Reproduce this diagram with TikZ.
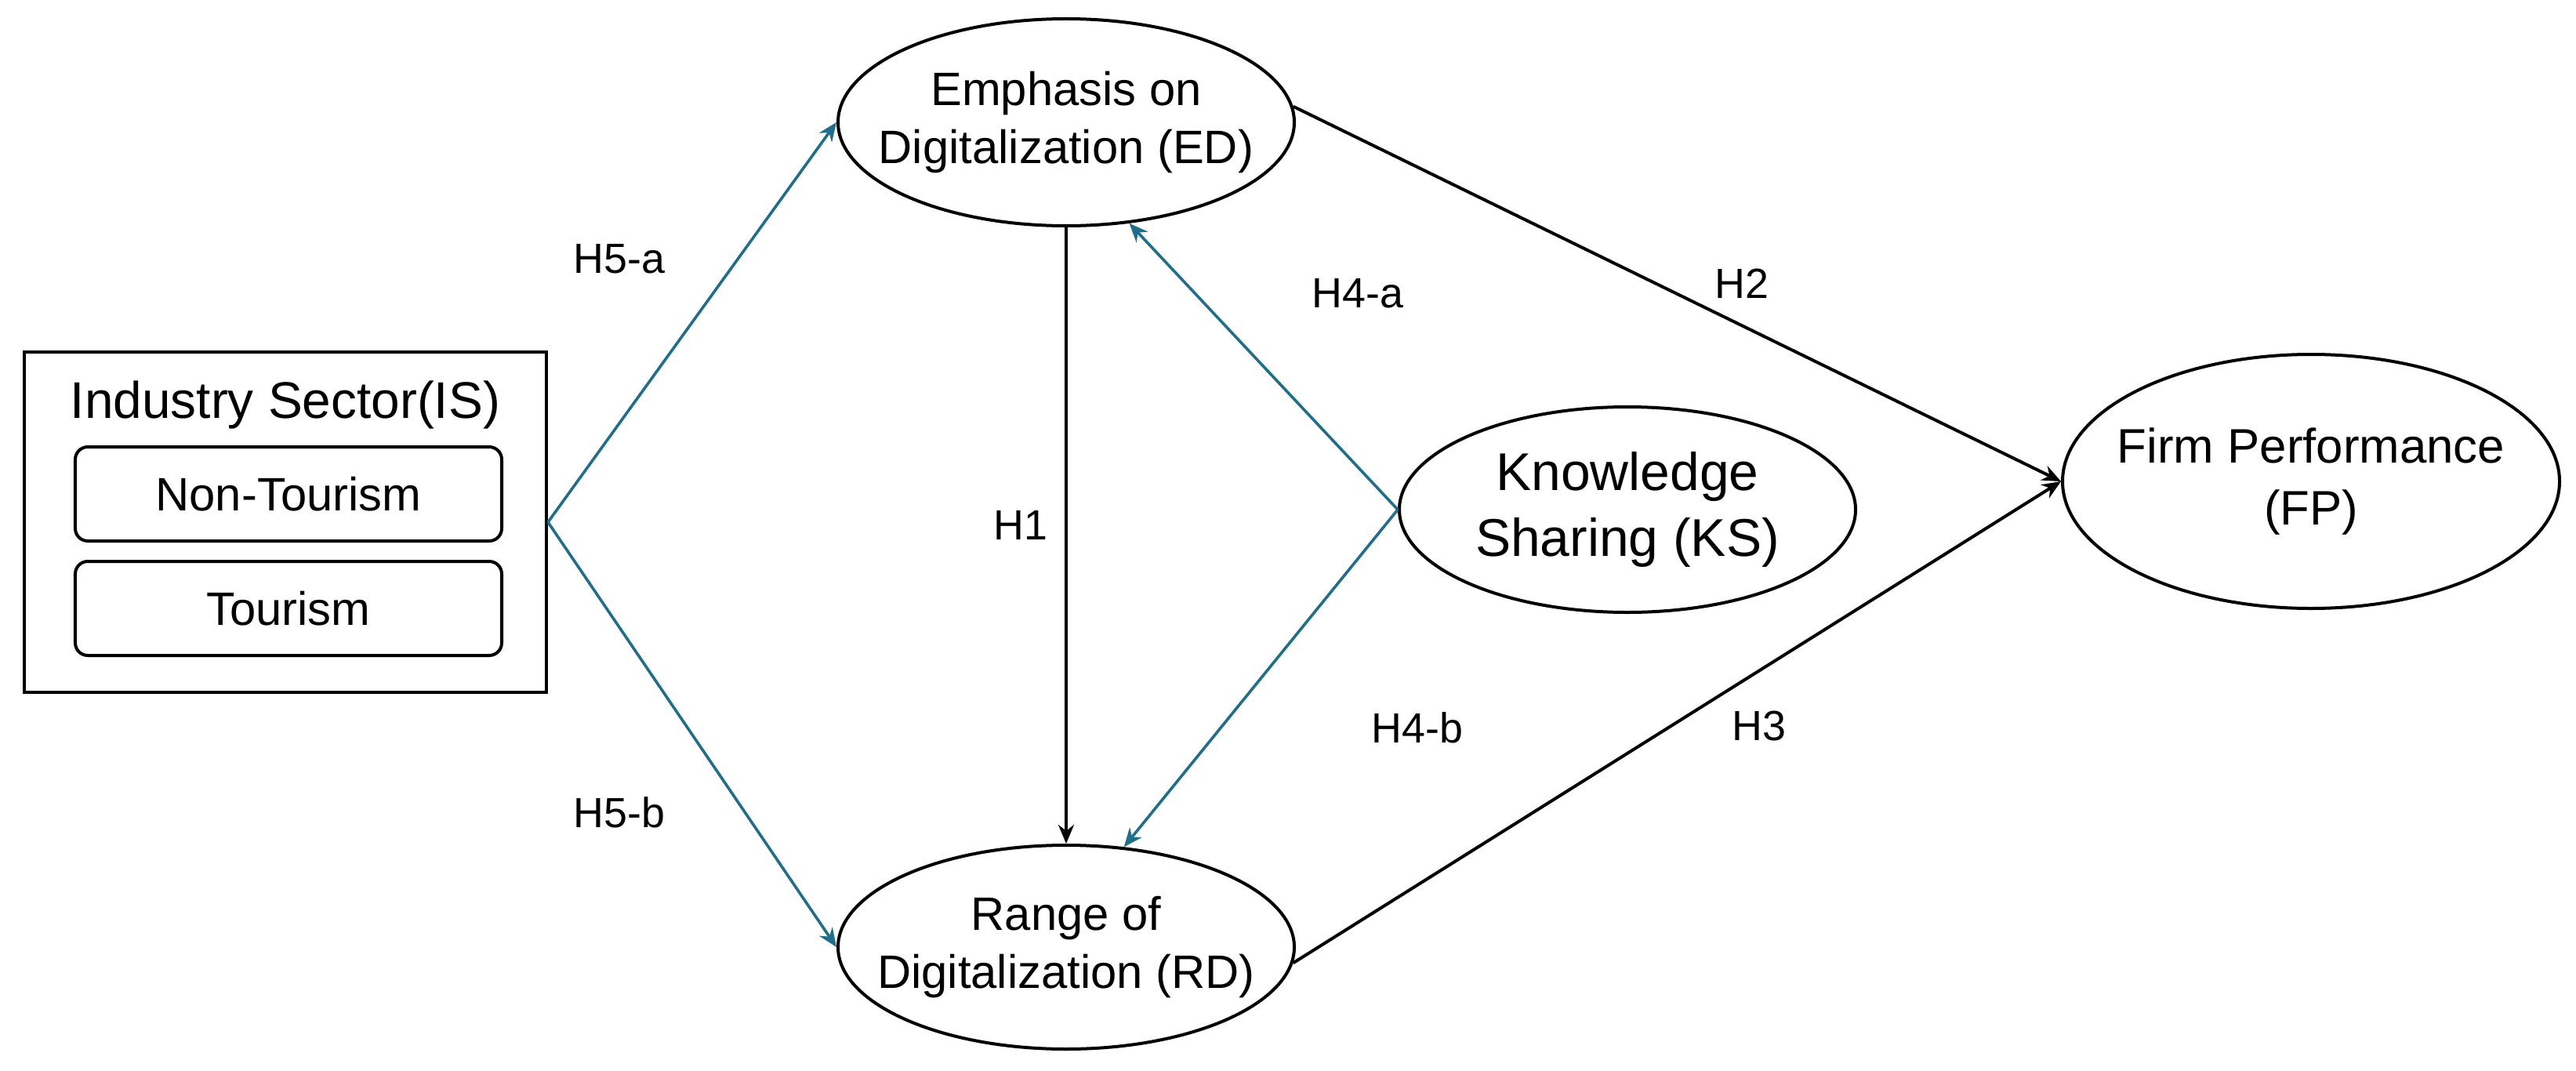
\documentclass[tikz,border=0pt]{standalone}
\usepackage{fontspec}
\setmainfont{Liberation Sans}
\usetikzlibrary{shapes.geometric,arrows.meta}
\definecolor{teal1}{HTML}{1F6E8C}
\begin{document}
\begin{tikzpicture}[x=1bp,y=-1bp,
  ell/.style={draw,ellipse,line width=2bp,inner sep=0pt},
  etxt/.style={align=center,font=\fontsize{30}{37}\selectfont},
  rbox/.style={draw,rounded corners=8bp,line width=2bp,minimum width=272bp,minimum height=60bp,font=\fontsize{30}{36}\selectfont},
  arr/.style={line width=2bp,-{Stealth[length=12bp,width=10bp]}},
  tarr/.style={line width=1.8bp,teal1,-{Stealth[length=12bp,width=10bp]}},
  lab/.style={font=\fontsize{27}{32}\selectfont}]
\useasboundingbox (0,0) rectangle (1643,683);
\node[draw,line width=2bp,minimum width=333bp,minimum height=217bp] (is) at (182,333) {};
\node[font=\fontsize{33}{40}\selectfont] (ist) at (182,258) {Industry Sector(IS)};
\node[rbox] (nt) at (184,315) {Non-Tourism};
\node[rbox] (t) at (184,388) {Tourism};
\node[ell,minimum width=291bp,minimum height=132bp] (ed) at (680,78) {};
\node[etxt] (edt) at (ed) {Emphasis on\\Digitalization (ED)};
\node[ell,minimum width=291bp,minimum height=130bp] (rd) at (680,604) {};
\node[etxt] (rdt) at (rd) {Range of\\Digitalization (RD)};
\node[ell,minimum width=291bp,minimum height=131bp] (ks) at (1038,325) {};
\node[etxt,font=\fontsize{34}{42}\selectfont] (kst) at (ks) {Knowledge\\Sharing (KS)};
\node[ell,minimum width=317bp,minimum height=162bp] (fp) at (1474,307) {};
\node[etxt,font=\fontsize{31}{40}\selectfont] (fpt) at (fp) {Firm Performance\\(FP)};
\draw[tarr] (is.east) -- (ed.west);
\draw[tarr] (is.east) -- (rd.west);
\draw[arr] (ed.south) -- (rd.north);
\draw[tarr] (ks.west) -- (ed.-58);
\draw[tarr] (ks.west) -- (rd.60);
\draw[arr] (ed.4) -- (fp.west);
\draw[arr] (rd.-4) -- (fp.west);
\node[lab] (h5a) at (395,165) {H5-a};
\node[lab] (h5b) at (395,518) {H5-b};
\node[lab] (h1) at (651,335) {H1};
\node[lab] (h4a) at (866,187) {H4-a};
\node[lab] (h4b) at (904,464) {H4-b};
\node[lab] (h2) at (1111,181) {H2};
\node[lab] (h3) at (1122,463) {H3};
\end{tikzpicture}
\end{document}
